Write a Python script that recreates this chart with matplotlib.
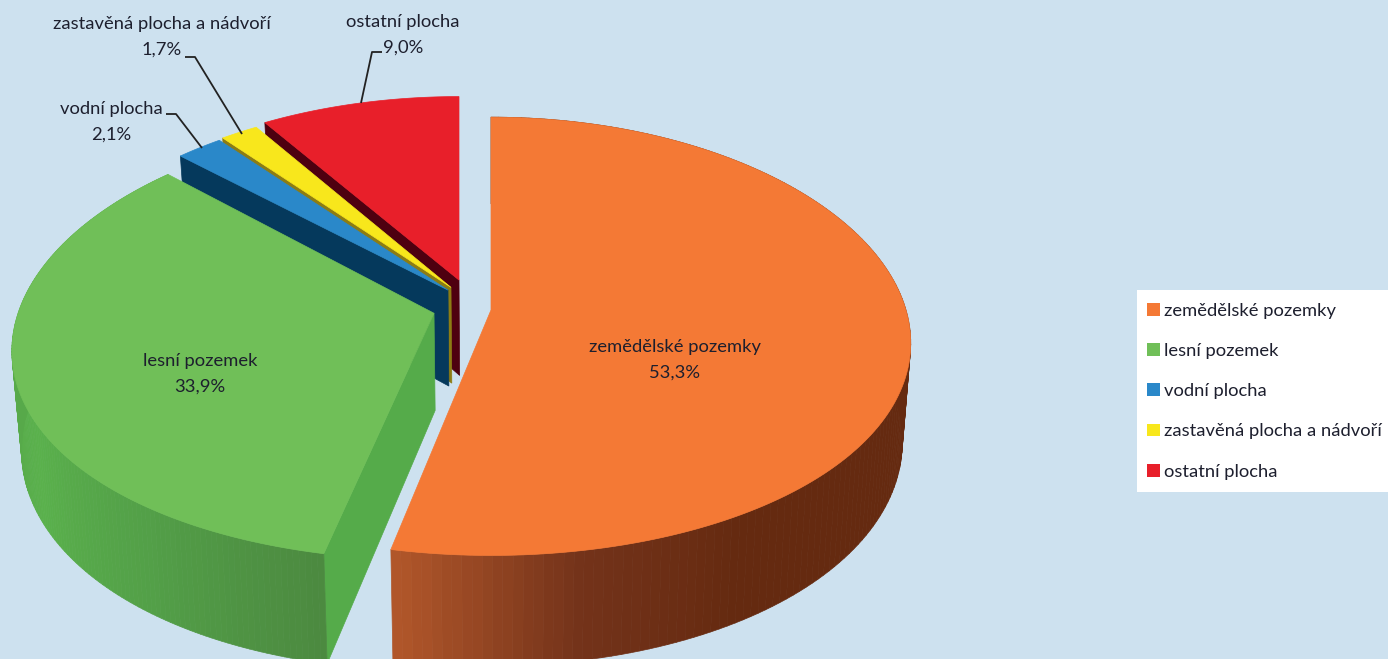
import numpy as np
import matplotlib
matplotlib.use("Agg")
import matplotlib.pyplot as plt
from matplotlib.collections import PolyCollection
from matplotlib.colors import LinearSegmentedColormap
from matplotlib.patches import Patch, Polygon, Rectangle

plt.rcParams['font.family'] = ['Lato', 'DejaVu Sans']

# data
categories = ["zemědělské pozemky", "lesní pozemek", "vodní plocha",
              "zastavěná plocha a nádvoří", "ostatní plocha"]
values = [53.3, 33.9, 2.1, 1.7, 9.0]

# styles
bg_color = "#cde1ef"
text_color = "#1d1f2e"
top_colors = ["#f47935", "#70bf58", "#2a88c9", "#f8e71c", "#e81f2a"]
wall_colors = ["#a8531f", "#55ab4a", "#05395c", "#8c7c14", "#4e0010"]
# the rims of the small slices face away from the viewer
rim_stops = [["#b0562a", "#74331a", "#652a10", "#652a10", "#652a10", "#652a10",
              "#652a10", "#652a10", "#652a10", "#652a10"],
             ["#4c8a40", "#53a048", "#5ab14c", "#57a94a", "#55a84a", "#55a84a"],
             None, None, None]
# explosion of each slice: ground offset (radius units), screen shift in x (px)
ground_offsets = [(0.0, 0.0), (-0.137, -0.015), (0.0, 0.093), (0.0, 0.106), (0.0, 0.141)]
screen_shifts = [0, 0, -43, -40, -32]
v_scales = [1.0, 1.0, 0.99, 0.99, 0.98]
draw_order = [4, 3, 2, 1, 0]

# projection of the tilted disc
cx, cy = 491, 310
rx, ry = 415, 216
kx, ky = 0.15, 0.12
depth = 97
taper = 0.02


def project(u, v, shift=0):
    x = cx + rx * u / (1 + kx * v) + shift
    y = cy - ry * v / (1 + ky * v)
    return x, y


def project_low(u, v, shift=0):
    x, y = project(u, v, shift)
    return cx + (x - cx) * (1 - taper), y + depth / (1 + ky * v)


def draw_slice(ax, i, start, end):
    ox, oy = ground_offsets[i]
    shift = screen_shifts[i]
    ang = np.radians(np.linspace(start, end, 160))
    u = np.sin(ang) + ox
    v = np.cos(ang) * v_scales[i] + oy

    # radial wall on the starting edge
    x0, y0 = project(ox, oy, shift)
    x1, y1 = project(u[0], v[0], shift)
    x2, y2 = project_low(u[0], v[0], shift)
    x3, y3 = project_low(ox, oy, shift)
    ax.add_patch(Polygon([(x0, y0), (x1, y1), (x2, y2), (x3, y3)],
                         fc=wall_colors[i], ec=wall_colors[i], lw=0.5))

    # outer rim, shaded along the arc
    xt, yt = project(u, v, shift)
    if rim_stops[i]:
        xb, yb = project_low(u, v, shift)
        quads = [[(xt[j], yt[j]), (xt[j + 1], yt[j + 1]), (xb[j + 1], yb[j + 1]), (xb[j], yb[j])]
                 for j in range(len(ang) - 1)]
        cmap = LinearSegmentedColormap.from_list("rim", rim_stops[i])
        shades = cmap(np.linspace(0, 1, len(quads)))
        if i == 0:
            shades = shades[::-1]
        ax.add_collection(PolyCollection(quads, facecolors=shades, edgecolors=shades, linewidths=0.5))

    # top face
    pts = [(x0, y0)] + list(zip(xt, yt))
    ax.add_patch(Polygon(pts, fc=top_colors[i], ec=top_colors[i], lw=0.5))


fig = plt.figure(figsize=(13.88, 6.59), dpi=100, facecolor=bg_color)
ax = fig.add_axes([0, 0, 1, 1])
ax.set_xlim(0, 1388)
ax.set_ylim(659, 0)
ax.axis('off')

edges = np.concatenate([[0], np.cumsum(values)]) / sum(values) * 360
for i in draw_order:
    draw_slice(ax, i, edges[i], edges[i + 1])

# data labels
label_pos = [(675, 360), (200, 374), (111, 122), (162, 37), (403, 35)]
for name, val, (lx, ly) in zip(categories, values, label_pos):
    ax.text(lx, ly, f"{name}\n{val:.1f}%".replace(".", ","), ha='center', va='center',
            fontsize=13.2, color=text_color, linespacing=1.75, zorder=5)

# leader lines
leaders = [[(166, 114), (176, 114), (202, 148)],
           [(185, 57), (195, 57), (242, 134)],
           [(382, 52), (372, 52), (361, 103)]]
for line in leaders:
    xs, ys = zip(*line)
    ax.plot(xs, ys, color="#222222", lw=1.3, zorder=4, solid_capstyle='butt')

# legend, on its own white box so the entries can sit closer to its left edge
ax.add_patch(Rectangle((1137, 290), 251, 202, fc='white', ec='none', zorder=3))
handles = [Patch(fc=c, ec='none', label=n) for n, c in zip(categories, top_colors)]
leg = ax.legend(handles=handles, loc='upper left', bbox_to_anchor=(1134, 290),
                bbox_transform=ax.transData, borderaxespad=0, fontsize=13.2,
                frameon=False, labelcolor=text_color, handlelength=0.7, handleheight=0.7,
                handletextpad=0.25, labelspacing=1.32, borderpad=0.7)
leg.set_zorder(4)

fig.savefig("out.png", dpi=100, facecolor=bg_color)
